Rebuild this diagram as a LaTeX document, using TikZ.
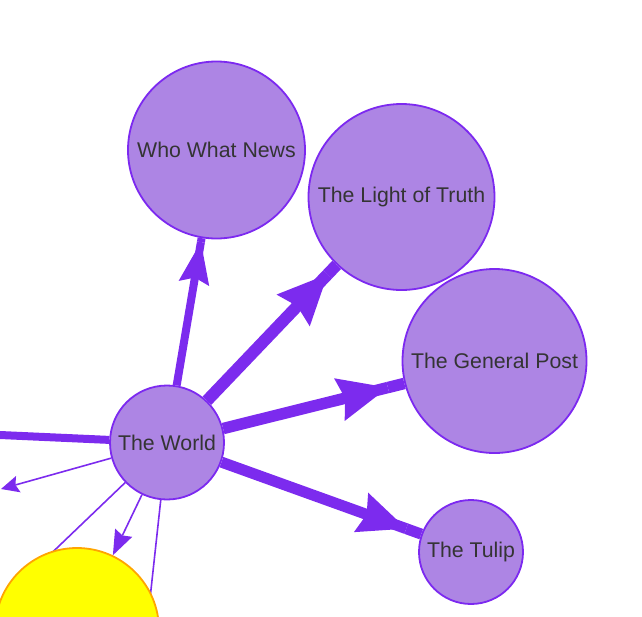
\documentclass[tikz,border=0pt]{standalone}
\usepackage{fontspec}
\setmainfont{Liberation Sans}
\usetikzlibrary{arrows.meta}

\definecolor{nodefill}{RGB}{173,133,228}
\definecolor{nodeline}{RGB}{124,41,240}
\definecolor{edgecol}{RGB}{124,43,238}
\definecolor{labeltext}{RGB}{52,52,52}
\definecolor{sunfill}{RGB}{255,255,0}
\definecolor{sunline}{RGB}{255,165,0}

\begin{document}
\begin{tikzpicture}[x=1pt, y=-1pt,
	paper/.style={circle, draw=nodeline, fill=nodefill, line width=1.8pt, inner sep=0pt,
		text=labeltext, font=\fontsize{21.3}{24}\selectfont, minimum size=#1},
	sun/.style={circle, draw=sunline, fill=sunfill, line width=1.8pt, minimum size=#1},
	link/.style={draw=edgecol, line width=#1},
	fat/.style n args={4}{link=#1, -{Stealth[length=#2,width=#3,inset=6pt,line width=0pt]Rectangle[length=#4,width=0pt 1,line width=0pt]}},
	slim/.style 2 args={link=1.6pt, -{Stealth[length=#1,width=#2,inset=3pt,line width=0pt]}}]
	\useasboundingbox (0,0) rectangle (642,616);
	\clip (0,0) rectangle (642,616);

		\node[paper=114pt] (world) at (167,442.5) {The World};
		\node[paper=177pt] (wwn)   at (216.5,150) {Who What News};
		\node[paper=186pt] (light) at (401.5,197) {The Light of Truth};
		\node[paper=184pt] (post)  at (494.5,361) {The General Post};
		\node[paper=104pt] (tulip) at (471,552) {The Tulip};

		% off the page
		\coordinate (west)      at (-100,430.5);
		\coordinate (westtip)   at (1,489);
		\coordinate (southwest) at (-60,660);
		\coordinate (south)     at (139,700);

		\draw[link=8pt] (world) -- (west);
		\draw[slim={18pt}{17pt}] (world) -- (westtip);
		\draw[link=1.6pt] (world) -- (southwest);
		\draw[link=1.6pt] (world) -- (south);

		\node[sun=164pt] (yellow) at (77,630) {};
		\draw[slim={25pt}{19pt}] (world) -- (yellow);

		\draw[fat={8pt}{42pt}{31pt}{4pt}] (world) -- (wwn);
		\draw[fat={12pt}{50pt}{46pt}{13pt}] (world) -- (light);
		\draw[fat={11.5pt}{50pt}{44pt}{17pt}] (world) -- (post);
		\draw[fat={11pt}{48pt}{42pt}{16pt}] (world) -- (tulip);
	\end{tikzpicture}
\end{document}
